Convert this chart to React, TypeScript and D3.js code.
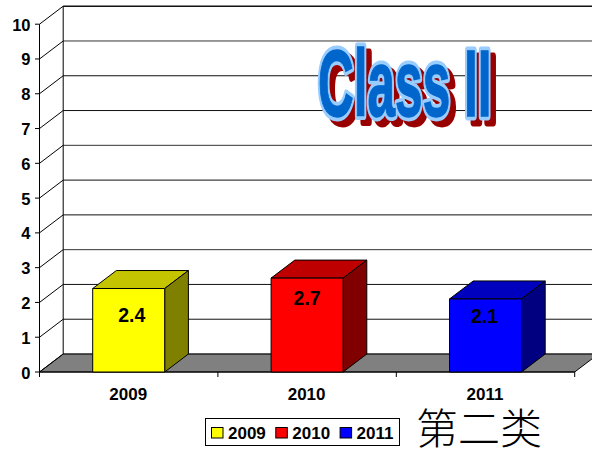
import React from "react";
import * as d3 from "d3";

const categories = ["2009", "2010", "2011"];
const values = [2.4, 2.7, 2.1];
const yTicks = d3.range(0, 11);
const frontColors = ["#ffff00", "#ff0000", "#0000ff"];
const topColors = ["#c4c400", "#bf0000", "#0000bf"];
const sideColors = ["#808000", "#800000", "#000080"];
const labelNudges: [number, number][] = [[3, 33.5], [0, 27], [-1, 24]];

const W = 592, H = 451;
const dx = 23.7, dy = -18;
const y = d3.scaleLinear().domain([0, 10]).range([372, 24.2]);
const x = d3.scaleBand().domain(categories).range([39.5, 574.7]).paddingInner(0).paddingOuter(0);
const barW = 72;
const font = "'Liberation Sans', Arial, sans-serif";
const xEnd = x.range()[1];

export default function App() {
  const band = x.bandwidth();
  const poly = (pts: [number, number][]) => pts.map(p => p.join(",")).join(" ");
  const classProps = { fontFamily: "'Liberation Sans', sans-serif", fontWeight: 700, fontSize: 84 };
  const classTransform = (ox: number, oy: number) => `translate(${318 + ox},${116 + oy}) scale(0.59,1.13)`;
  const ve = { vectorEffect: "non-scaling-stroke" as const };
  return (
    <svg width={W} height={H} viewBox={`0 0 ${W} ${H}`} style={{ position: "fixed", left: 0, top: 0, background: "#fff" }}>
      {/* floor */}
      <polygon points={poly([[39.5, y(0)], [39.5 + dx, y(0) + dy], [xEnd + dx, y(0) + dy], [xEnd, y(0)]])} fill="#808080" stroke="#000" strokeWidth={1} />
      {/* grid */}
      {yTicks.map(t => (
        <g key={t} stroke="#000" strokeWidth={1} fill="none">
          <line x1={39.5 + dx} x2={W} y1={y(t) + dy} y2={y(t) + dy} stroke={t % 3 === 0 ? "#333" : "#111"} strokeWidth={t === 10 ? 1.4 : 1} />
          <line x1={39.5} x2={39.5 + dx} y1={y(t)} y2={y(t) + dy} />
          <line x1={35} x2={39.5} y1={y(t)} y2={y(t)} />
          <text x={30.5} y={y(t) + 6.5} textAnchor="end" fontFamily={font} fontWeight={700} fontSize={16.5} fill="#000" stroke="none">{t}</text>
        </g>
      ))}
      <line x1={39.5} x2={39.5} y1={y(10)} y2={y(0)} stroke="#000" />
      <line x1={39.5 + dx} x2={39.5 + dx} y1={y(10) + dy} y2={y(0) + dy} stroke="#000" />
      <line x1={39.5} x2={xEnd} y1={y(0)} y2={y(0)} stroke="#000" />
      {[0, 1, 2, 3].map(i => {
        const px = 39.5 + i * band;
        return <line key={i} x1={px} x2={px} y1={y(0)} y2={y(0) + 5} stroke="#000" />;
      })}
      {/* bars */}
      {categories.map((c, i) => {
        const cx = x(c)! + band / 2;
        const l = cx - barW / 2, r = cx + barW / 2, t = y(values[i]), b = y(0);
        return (
          <g key={c} stroke="#000" strokeWidth={1} strokeLinejoin="round">
            <polygon points={poly([[l, t], [l + dx, t + dy], [r + dx, t + dy], [r, t]])} fill={topColors[i]} />
            <polygon points={poly([[r, t], [r + dx, t + dy], [r + dx, b + dy], [r, b]])} fill={sideColors[i]} />
            <rect x={l} y={t} width={barW} height={b - t} fill={frontColors[i]} />
            <text x={cx + labelNudges[i][0]} y={t + labelNudges[i][1]} textAnchor="middle" fontFamily={font} fontWeight={700} fontSize={19.5} fill="#000" stroke="none">{values[i]}</text>
            <text x={cx - 0.5} y={400} textAnchor="middle" fontFamily={font} fontWeight={700} fontSize={17} fill="#000" stroke="none">{c}</text>
          </g>
        );
      })}
      {/* WordArt */}
      <g {...classProps}>
        <text transform={classTransform(5.5, 6)} fill="#990000" stroke="#990000" strokeWidth={7} strokeLinejoin="round" style={ve}>Class II</text>
        <text transform={classTransform(0, 0)} fill="#99ccff" stroke="#99ccff" strokeWidth={7} strokeLinejoin="round" style={ve}>Class II</text>
        <text transform={classTransform(0, 0)} fill="#0066cc" stroke="#0066cc" strokeWidth={1} style={ve}>Class II</text>
      </g>
      {/* legend */}
      <rect x={205.5} y={418.5} width={194} height={27} fill="#fff" stroke="#000" />
      {categories.map((c, i) => {
        const sx = 211.5 + i * 64.3;
        return (
          <g key={c}>
            <rect x={sx} y={427.5} width={11.5} height={10.5} fill={frontColors[i]} stroke="#000" />
            <text x={sx + 16.5} y={439} fontFamily={font} fontWeight={700} fontSize={17} fill="#000">{c}</text>
          </g>
        );
      })}
      <text x={416} y={444} fontFamily="'Noto Sans CJK SC', sans-serif" fontWeight={300} fontSize={42} fill="#000">第二类</text>
    </svg>
  );
}
